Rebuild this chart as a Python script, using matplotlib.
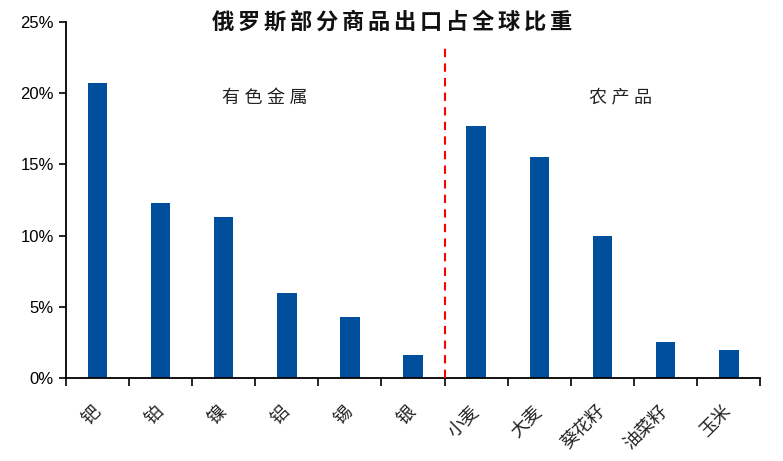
import numpy as np
import matplotlib.pyplot as plt
from matplotlib.ticker import FuncFormatter, FixedLocator

plt.rcParams['font.family'] = ['Noto Sans CJK SC', 'DejaVu Sans']

# data
categories = ["钯", "铂", "镍", "铝", "锡", "银", "小麦", "大麦", "葵花籽", "油菜籽", "玉米"]
shares = [20.7, 12.3, 11.3, 6.0, 4.3, 1.6, 17.7, 15.5, 10.0, 2.5, 2.0]
group_labels = ["有色金属", "农产品"]
title = "俄罗斯部分商品出口占全球比重"

fig = plt.figure(figsize=(7.83, 4.61), dpi=100)
ax = fig.add_axes([0.084, 0.18, 0.887, 0.772])

x = np.arange(len(categories))
ax.bar(x, shares, width=0.31, color="#004F9C", zorder=2)

ax.set_xlim(-0.5, len(categories) - 0.5)
ax.set_ylim(0, 25)
ax.set_yticks(np.arange(0, 26, 5))
ax.yaxis.set_major_formatter(FuncFormatter(lambda v, p: f"{v:.0f}%"))

# ticks between categories, labels at centers
ax.set_xticks(x)
ax.set_xticklabels(categories, rotation=45, ha="right", va="center",
                   rotation_mode="anchor", fontsize=13, color="#222222")
ax.xaxis.set_minor_locator(FixedLocator(np.arange(-0.5, len(categories), 1)))
ax.tick_params(axis="x", which="major", length=0, pad=22)
ax.tick_params(axis="x", which="minor", length=6, width=1.2, direction="out")
ax.tick_params(axis="y", length=5, width=1.2, direction="out", labelsize=12)
for lab in ax.get_yticklabels():
    lab.set_family(["Liberation Sans", "DejaVu Sans"])
for lab in ax.get_xticklabels():
    lab.set_x(lab.get_position()[0])

for side in ["top", "right"]:
    ax.spines[side].set_visible(False)
ax.spines["left"].set_linewidth(1.3)
ax.spines["bottom"].set_linewidth(1.3)

# divider between the two groups, stops below the title
ax.plot([5.5, 5.5], [0, 23.2], color="red", linestyle=(0, (4, 3)), linewidth=1.5, zorder=3)

sp4 = "\u2005"
ax.text(2.65, 19.7, sp4.join(group_labels[0]), ha="center", va="center", fontsize=13, color="#222222")
ax.text(8.28, 19.7, sp4.join(group_labels[1]), ha="center", va="center", fontsize=13, color="#222222")
ax.text(0.47, 1.0, "\u2006".join(title), transform=ax.transAxes, ha="center", va="center",
        fontsize=16, fontweight="bold", color="#111111")

fig.savefig("out.png", dpi=100)
